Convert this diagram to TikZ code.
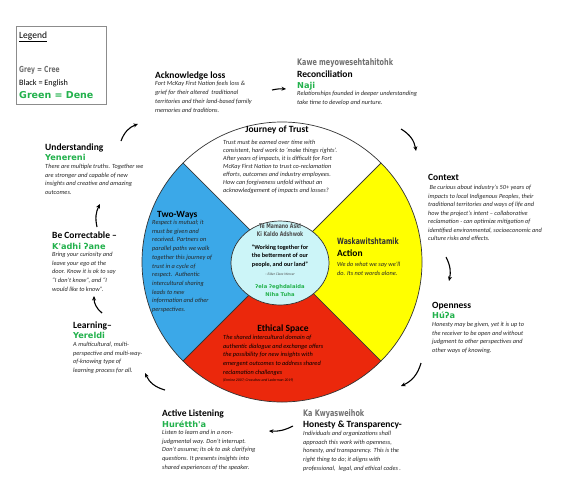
\documentclass[tikz,border=0pt]{standalone}
\usepackage{fontspec}
\setmainfont{Carlito}[ItalicFont=Carlito Italic, BoldFont=Carlito Bold, BoldItalicFont=Carlito Bold Italic]
\newfontfamily\dene{DejaVu Sans}
\newfontfamily\cree{DejaVu Sans}[FakeStretch=0.72]
\usetikzlibrary{arrows.meta}
\definecolor{deneg}{RGB}{34,177,76}
\definecolor{creeg}{RGB}{112,112,112}
\definecolor{skyb}{RGB}{59,168,232}
\definecolor{redo}{RGB}{235,40,12}
\definecolor{yel}{RGB}{255,255,0}
\definecolor{cyanl}{RGB}{204,245,248}
\begin{document}
\begin{tikzpicture}[x=1pt,y=-1pt,
 hd/.style={font=\fontsize{9.5}{11}\selectfont\bfseries, anchor=base west, inner sep=0pt},
 bd/.style={font=\fontsize{6.3}{8.7}\selectfont\itshape, anchor=north west, inner sep=0pt, align=left, text=black!85},
 dn/.style={font=\dene\bfseries\fontsize{8.2}{9}\selectfont, text=deneg, anchor=base west, inner sep=0pt},
 cr/.style={font=\cree\bfseries\fontsize{9}{10}\selectfont, text=creeg, anchor=base west, inner sep=0pt},
 arr/.style={-{Stealth[length=4.5pt,width=4pt]}, line width=1.1pt},
 sec/.style={draw=black!80, line width=0.7pt}]
\fill[white] (0,0) rectangle (564,479);
\path[use as bounding box] (0,0) rectangle (564,479);

% wheel
\coordinate (C) at (282,262);
\filldraw[sec, fill=white] (C) -- ++(45:140pt) arc[start angle=45,end angle=135,radius=140pt] -- cycle;
\filldraw[sec, fill=skyb] (C) -- ++(135:140pt) arc[start angle=135,end angle=225,radius=140pt] -- cycle;
\filldraw[sec, fill=redo] (C) -- ++(225:140pt) arc[start angle=225,end angle=315,radius=140pt] -- cycle;
\filldraw[sec, fill=yel] (C) -- ++(-45:140pt) arc[start angle=-45,end angle=45,radius=140pt] -- cycle;
\filldraw[sec, fill=cyanl] (280,263) ellipse [x radius=49pt, y radius=42pt];

% legend
\node[draw=black!45, line width=0.6pt, minimum width=90pt, minimum height=78pt, anchor=north west, inner sep=0pt] (legend) at (16,26) {};
\node[font=\fontsize{9.5}{11}\selectfont, anchor=base west, inner sep=0pt] (lgt) at (19,38) {\underline{Legend}};
\node[cr, font=\cree\bfseries\fontsize{8.3}{9}\selectfont] (lg1) at (19,72) {Grey = Cree};
\node[font=\fontsize{8.2}{10}\selectfont, anchor=base west, inner sep=0pt] (lg2) at (19,85) {Black = English};
\node[dn, font=\dene\bfseries\fontsize{9.5}{11}\selectfont] (lg3) at (19,98.5) {Green = Dene};

% Acknowledge loss
\node[hd] (ackh) at (155,78) {Acknowledge loss};
\node[bd, font=\fontsize{6.3}{9}\selectfont\itshape] (ackb) at (155,81) {Fort McKay First Nation feels loss \&\\grief for their altered\ \ traditional\\territories and their land-based family\\memories and traditions.};

% Reconciliation
\node[cr] (recc) at (297,65.5) {Kawe meyowesehtahitohk};
\node[hd] (rech) at (297,77) {Reconciliation};
\node[dn] (recd) at (297,88) {Naji};
\node[bd] (recb) at (297,91) {Relationships founded in deeper understanding\\take time to develop and nurture.};

% Understanding
\node[hd] (undh) at (45,150) {Understanding};
\node[dn] (undd) at (45,160.5) {Yenereni};
\node[bd] (undb) at (45,164) {There are multiple truths. Together we\\are stronger and capable of new\\insights and creative and amazing\\outcomes.};

% Be Correctable
\node[hd] (corh) at (52,238) {Be Correctable --};
\node[dn] (cord) at (52,249) {K'adhi ʔane};
\node[bd] (corb) at (52,252) {Bring your curiosity and\\leave your ego at the\\door. Know it is ok to say\\“I don’t know”, and “I\\would like to know”.};

% Learning
\node[hd] (lrnh) at (73,328) {Learning--};
\node[dn] (lrnd) at (73,338.5) {Yereldi};
\node[bd] (lrnb) at (73,342) {A multicultural, multi-\\perspective and multi-way-\\of-knowing type of\\learning process for all.};

% Active Listening
\node[hd] (lish) at (162,416) {Active Listening};
\node[dn] (lisd) at (162,427) {Hurétth'a};
\node[bd] (lisb) at (162,430) {Listen to learn and in a non-\\judgmental way. Don’t interrupt.\\Don’t assume; its ok to ask clarifying\\questions. It presents insights into\\shared experiences of the speaker.};

% Honesty
\node[cr] (honc) at (303,416.5) {Ka Kwyasweihok};
\node[hd] (honh) at (303,427.5) {Honesty \& Transparency-};
\node[bd] (honb) at (303,431) {Individuals and organizations shall\\approach this work with openness,\\honesty, and transparency. This is the\\right thing to do; it aligns with\\professional,\ \ legal, and ethical codes .};

% Context
\node[hd] (conh) at (428,180) {Context};
\node[bd, font=\fontsize{6.3}{8.5}\selectfont\itshape] (conb) at (428,185) {\ Be curious about industry’s 50+ years of\\impacts to local Indigenous Peoples, their\\traditional territories and ways of life and\\how the project’s intent -- collaborative\\reclamation - can optimize mitigation of\\identified environmental, socioeconomic and\\culture risks and effects.};

% Openness
\node[hd] (opnh) at (432,308) {Openness};
\node[dn] (opnd) at (432,318.5) {Húʔa};
\node[bd] (opnb) at (432,322) {Honesty may be given, yet it is up to\\the receiver to be open and without\\judgment to other perspectives and\\other ways of knowing.};

% Journey of Trust
\node[hd, anchor=base] (jouh) at (277,132) {Journey of Trust};
\node[bd, font=\fontsize{6.3}{8}\selectfont\itshape] (joub) at (223,140) {Trust must be earned over time with\\consistent, hard work to ‘make things rights’.\\After years of impacts, it is difficult for Fort\\McKay First Nation to trust co-reclamation\\efforts, outcomes and industry employees.\\How can forgiveness unfold without an\\acknowledgement of impacts and losses?};

% Two-Ways
\node[hd] (twoh) at (157,217) {Two-Ways};
\node[bd] (twob) at (152,220) {Respect is mutual; it\\must be given and\\received. Partners on\\parallel paths we walk\\together this journey of\\trust in a cycle of\\respect.\ \ Authentic\\intercultural sharing\\leads to new\\information and other\\perspectives.};

% Action
\node[cr, text=black!80, font=\cree\bfseries\fontsize{8.6}{10}\selectfont] (actc) at (337,244.5) {Waskawitshtamik};
\node[hd] (acth) at (337,256.5) {Action};
\node[bd] (actb) at (337,262) {We do what we say we'll\\do. Its not words alone.};

% Ethical Space
\node[hd, anchor=base] (ethh) at (283,331) {Ethical Space};
\node[bd, text=black] (ethb) at (223,335) {The shared intercultural domain of\\authentic dialogue and exchange offers\\the possibility for new insights with\\emergent outcomes to address shared\\reclamation challenges};
\node[bd, text=black, font=\fontsize{3.8}{4.5}\selectfont\itshape] (ethr) at (223,378.5) {(Ermine 2007; Crosschec and Lederman 2019)};

% centre
\node[font=\cree\bfseries\fontsize{6.4}{8}\selectfont, text=black!70, align=center, anchor=north, inner sep=0pt] (cenc) at (280,223) {Te Mamano Askl\\Ki Kaldo Adshwok};
\node[font=\fontsize{6.2}{8.5}\selectfont\bfseries, align=center, anchor=north, inner sep=0pt] (cenq) at (280,244.5) {“Working together for\\the betterment of our\\people, and our land”};
\node[font=\fontsize{3.6}{4.5}\selectfont\itshape, text=black!70, anchor=north, inner sep=0pt] (cene) at (280,273) {-- Elder Clara Mercer};
\node[font=\dene\bfseries\fontsize{5.2}{8}\selectfont, text=deneg, align=center, anchor=north, inner sep=0pt] (cend) at (280,284.5) {ʔela ʔeghdalaida\\Niha Tuha};

% arrows
\coordinate (a1s) at (121,141); \coordinate (a1e) at (138,124);
\coordinate (a2s) at (272,90);  \coordinate (a2e) at (286,89);
\coordinate (a3s) at (401,129); \coordinate (a3e) at (416,151);
\coordinate (a4s) at (446,257); \coordinate (a4e) at (449,281);
\coordinate (a5s) at (421,363); \coordinate (a5e) at (401,386);
\coordinate (a6s) at (293,426); \coordinate (a6e) at (269,431);
\coordinate (a7s) at (165,390); \coordinate (a7e) at (145,373);
\coordinate (a8s) at (102,313); \coordinate (a8e) at (94,296);
\coordinate (a9s) at (97,227);  \coordinate (a9e) at (100,204);
\draw[arr] (a1s) to[bend left=25] (a1e);
\draw[arr] (a2s) to[bend left=8] (a2e);
\draw[arr] (a3s) to[bend left=25] (a3e);
\draw[arr] (a4s) to[bend left=20] (a4e);
\draw[arr] (a5s) to[bend left=25] (a5e);
\draw[arr] (a6s) to[bend left=15] (a6e);
\draw[arr] (a7s) to[bend left=25] (a7e);
\draw[arr] (a8s) to[bend left=25] (a8e);
\draw[arr] (a9s) to[bend left=20] (a9e);
\end{tikzpicture}
\end{document}
